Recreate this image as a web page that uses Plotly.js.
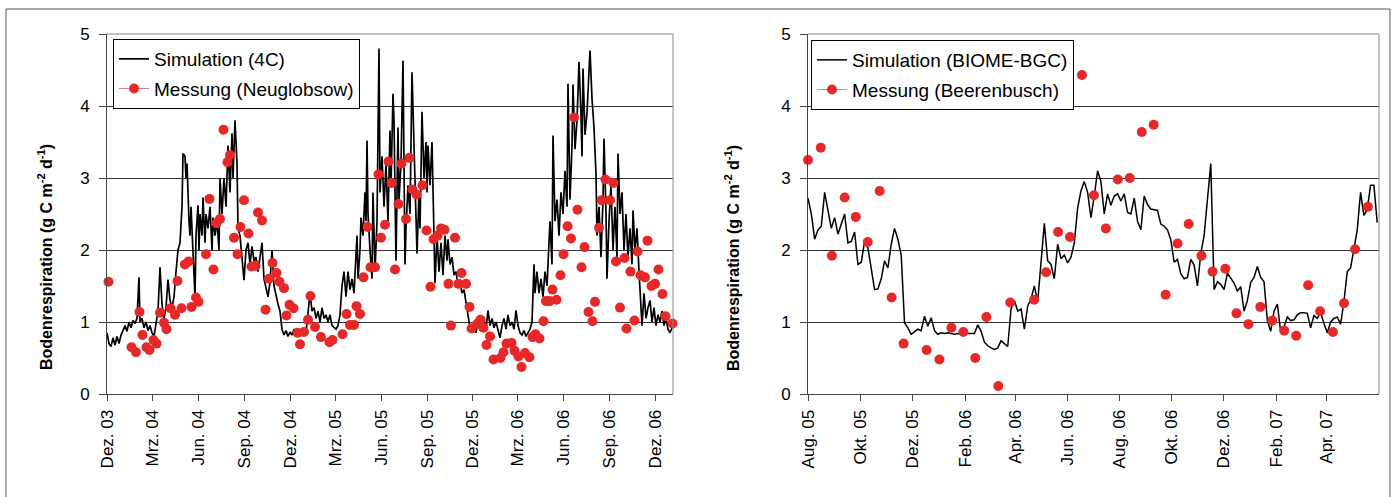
<!DOCTYPE html>
<html><head><meta charset="utf-8">
<script src="https://cdn.plot.ly/plotly-3.0.1.min.js"></script>
<style>html,body{margin:0;padding:0;background:#fff}#chart{width:1394px;height:497px}</style>
</head><body><div id="chart"></div>
<script>
// ---------- Left panel: 4C simulation vs. Neuglobsow ----------
const startL = '2003-12-01';
const simLDays = [0,4,8,12,16,20,24,28,32,36,
40,44,48,52,56,60,64,66,70,74,
78,82,86,90,94,98,102,106,110,114,
118,122,126,130,134,138,142,146,150,152,
156,158,160,164,166,168,172,176,178,182,
184,186,190,192,196,198,202,206,210,212,
216,220,224,226,230,234,238,242,246,250,
252,256,260,262,266,270,274,278,282,286,
290,294,298,302,306,310,314,318,322,326,
330,334,338,342,346,350,354,358,362,366,
370,374,378,382,386,390,394,398,402,406,
410,414,418,422,426,430,434,438,442,446,
450,454,458,462,466,470,474,478,482,486,
490,494,498,500,502,506,508,512,516,518,
520,522,526,530,532,536,540,544,546,550,
554,558,562,566,568,572,574,578,582,584,
588,592,596,598,602,606,610,614,618,620,
624,626,630,634,638,640,642,646,650,652,
656,660,664,668,672,676,680,682,686,690,
694,698,702,706,710,714,718,722,726,730,
734,738,742,746,750,754,758,762,766,770,
774,778,782,786,790,794,798,802,806,810,
814,818,822,826,830,834,838,842,846,850,
854,856,860,864,868,872,876,880,884,886,
890,892,896,900,904,908,912,916,920,922,
926,930,932,936,940,944,948,950,952,956,
960,966,970,974,978,980,984,988,992,994,
998,1000,1004,1008,1012,1016,1020,1022,1026,1030,
1034,1038,1042,1046,1050,1052,1056,1060,1064,1068,
1070,1074,1078,1082,1086,1090,1094,1098,1102,1106,
1110,1114,1118,1122,1126,1130];
const simLVals = [0.85,0.70,0.66,0.78,0.68,0.80,0.70,0.82,0.88,0.95,
0.87,1.00,0.92,1.02,0.98,1.05,1.62,1.00,1.05,0.92,
1.00,0.88,0.95,0.85,0.80,0.95,1.15,1.76,1.25,1.05,
1.20,1.59,1.30,1.20,1.35,1.70,2.00,2.10,2.60,3.34,
3.30,3.00,3.20,2.40,2.20,2.60,2.00,1.35,2.20,2.62,
2.00,2.50,2.20,2.73,2.10,2.50,2.30,2.60,2.00,2.45,
2.20,2.40,2.00,3.00,2.50,3.00,2.60,3.45,2.80,3.62,
3.00,3.80,3.20,2.30,2.20,1.90,1.58,2.00,2.10,1.80,
2.05,1.85,1.90,1.70,1.90,2.10,1.60,1.45,1.35,1.55,
2.00,1.50,1.35,1.25,1.15,0.90,0.82,0.88,0.80,0.86,
0.82,0.90,0.84,0.88,0.80,0.86,0.90,0.85,1.10,1.40,
1.15,1.20,1.05,1.15,1.00,1.20,1.05,1.10,1.00,1.10,
0.95,0.92,0.90,0.95,1.10,1.50,1.70,1.35,1.70,1.45,
1.60,1.40,1.90,2.20,1.60,2.00,2.45,2.20,2.80,2.40,
3.52,2.50,2.00,1.60,2.80,1.70,2.40,4.80,2.80,3.30,
2.60,3.20,2.40,3.66,2.90,4.17,3.80,1.85,3.70,2.70,
3.20,4.63,1.80,2.30,2.90,2.50,4.47,3.40,2.40,1.95,
2.80,2.30,3.92,3.00,3.50,2.80,3.45,2.90,3.50,2.80,
1.54,2.20,1.70,2.10,1.65,2.20,1.85,2.15,1.80,1.90,
1.65,1.70,1.50,1.55,1.40,1.45,1.25,1.05,0.92,0.88,
0.95,0.85,1.00,0.88,0.92,1.05,0.90,1.16,0.95,1.05,
0.92,1.00,0.90,0.78,0.95,1.05,0.90,1.10,0.95,1.00,
0.90,1.16,0.95,0.85,0.82,0.88,0.80,0.85,0.90,1.00,
1.80,1.40,1.70,1.40,1.60,1.35,1.70,1.50,2.00,2.40,
1.80,3.59,2.40,2.70,2.20,2.80,2.50,3.10,2.60,4.31,
2.70,3.45,4.30,3.40,3.80,4.61,3.87,3.30,4.52,3.60,
3.90,4.77,4.10,3.70,3.05,2.20,2.60,1.90,2.70,3.55,
2.50,1.60,2.40,2.90,2.00,2.60,1.90,3.34,2.50,2.80,
2.00,2.50,1.90,2.30,1.80,2.55,2.00,2.30,1.70,1.30,
0.95,1.40,1.05,1.20,1.30,1.00,1.20,0.95,1.10,1.00,
1.15,0.95,1.05,0.90,0.85,0.92];
const measLDays = [3,49,58,65,71,79,85,93,99,106,
114,119,127,136,141,149,156,163,169,178,
183,198,205,213,219,226,233,241,246,254,
261,267,274,283,289,297,302,310,317,324,
331,339,345,354,359,365,373,381,386,394,
402,407,416,428,445,451,471,479,486,494,
499,506,513,521,527,536,543,548,556,563,
569,576,583,589,598,605,611,619,631,639,
647,653,661,668,675,683,688,696,703,709,
718,725,729,741,747,753,759,766,773,787,
793,799,809,815,823,829,836,845,851,857,
865,873,878,885,891,899,907,913,921,928,
934,941,949,955,963,971,976,984,989,997,
1006,1013,1018,1026,1035,1039,1047,1055,1061,1067,
1076,1081,1089,1096,1103,1111,1117,1131];
const measLVals = [1.56,0.65,0.58,1.14,0.82,0.65,0.61,0.75,0.70,1.13,
0.99,0.90,1.19,1.10,1.57,1.19,1.80,1.84,1.21,1.34,
1.28,1.94,2.71,1.73,2.37,2.43,3.67,3.22,3.32,2.17,
1.94,2.32,2.69,2.23,1.77,1.78,2.52,2.41,1.17,1.60,
1.82,1.68,1.56,1.47,1.09,1.24,1.19,0.85,0.69,0.86,
1.03,1.36,0.93,0.79,0.72,0.75,0.83,1.11,0.96,0.96,
1.22,1.11,1.62,2.32,1.76,1.76,3.05,2.17,2.35,3.23,
2.93,1.73,2.64,3.20,2.43,3.28,2.84,2.77,2.90,2.27,
1.49,2.15,2.20,2.30,2.28,1.53,0.95,2.17,1.53,1.68,
1.53,1.21,0.91,0.98,1.03,0.92,0.68,0.80,0.48,0.50,
0.58,0.70,0.71,0.60,0.52,0.375,0.57,0.51,0.79,0.83,
0.77,1.01,1.29,1.29,1.45,1.31,1.65,1.94,2.33,2.16,
3.84,2.56,1.76,2.04,1.14,1.01,1.28,2.31,2.69,2.98,
2.69,2.93,1.84,1.20,1.89,0.91,1.70,1.02,1.98,1.65,
1.62,2.13,1.50,1.53,1.73,1.39,1.08,0.98];
const tickValsL = ['2003-12-01','2004-03-01','2004-06-01','2004-09-01','2004-12-01','2005-03-01','2005-06-01','2005-09-01','2005-12-01','2006-03-01','2006-06-01','2006-09-01','2006-12-01'];
const tickTextL = ['Dez. 03','Mrz. 04','Jun. 04','Sep. 04','Dez. 04','Mrz. 05','Jun. 05','Sep. 05','Dez. 05','Mrz. 06','Jun. 06','Sep. 06','Dez. 06'];

// ---------- Right panel: BIOME-BGC simulation vs. Beerenbusch ----------
const startR = '2005-08-01';
const simRStepDays = 3.9;
const simRVals = [2.72,2.50,2.15,2.28,2.33,2.80,2.55,2.30,2.45,2.22,
2.36,2.50,2.10,2.12,2.25,1.80,1.83,2.12,2.03,1.75,
1.45,1.46,1.60,1.85,1.75,2.08,2.30,2.15,1.93,0.99,
0.92,0.83,0.86,0.90,0.88,1.08,0.94,1.06,0.88,0.83,
0.85,0.84,0.85,0.84,0.83,0.84,0.83,0.84,0.84,0.83,
0.84,0.96,0.87,0.72,0.67,0.64,0.62,0.64,0.74,0.70,
0.66,1.18,1.30,1.15,1.18,0.90,1.22,1.32,1.50,1.28,
1.80,2.37,1.85,1.80,1.60,2.08,1.88,1.93,1.82,1.90,
2.10,2.58,2.82,2.95,2.80,2.45,2.75,3.10,2.95,2.50,
2.78,2.62,2.75,2.78,2.68,2.78,2.52,2.50,2.72,2.40,
2.28,2.75,2.63,2.57,2.56,2.55,2.36,2.33,2.28,2.14,
1.83,1.87,1.67,1.60,1.62,1.87,1.79,1.50,1.95,2.20,
2.70,3.20,1.45,1.56,1.52,1.45,1.68,1.60,1.54,1.43,
1.49,1.15,1.30,1.55,1.62,1.77,1.62,1.56,1.02,0.87,
1.15,1.25,0.86,0.93,1.07,1.02,1.03,1.10,1.13,1.13,
1.12,0.92,1.09,1.05,1.13,0.98,0.85,1.00,1.05,1.07,
0.97,1.28,1.70,1.75,2.00,2.28,2.80,2.48,2.56,2.90,
2.90,2.38];
const measRDays = [0,15,28,43,56,70,84,98,112,139,154,168,182,196,209,223,237,265,279,293,307,321,335,349,363,377,391,405,419,433,446,461,474,489,502,516,530,544,558,572,586,600,615,628,641,656];
const measRVals = [3.25,3.42,1.92,2.73,2.46,2.11,2.82,1.34,0.70,0.61,0.48,0.92,0.86,0.50,1.07,0.11,1.27,1.31,1.69,2.25,2.18,4.43,2.76,2.30,2.98,3.00,3.64,3.74,1.38,2.09,2.36,1.92,1.70,1.74,1.12,0.97,1.21,1.02,0.88,0.81,1.51,1.15,0.86,1.26,2.01,2.60];
const tickValsR = ['2005-08-01','2005-10-01','2005-12-01','2006-02-01','2006-04-01','2006-06-01','2006-08-01','2006-10-01','2006-12-01','2007-02-01','2007-04-01'];
const tickTextR = ['Aug. 05','Okt. 05','Dez. 05','Feb. 06','Apr. 06','Jun. 06','Aug. 06','Okt. 06','Dez. 06','Feb. 07','Apr. 07'];

const yTicks = [0,1,2,3,4,5];
const yTitle = 'Bodenrespiration (g C m<sup>-2</sup> d<sup>-1</sup>)';

function dayToDate(start, d) {
  const t = Date.parse(start + 'T00:00:00Z') + d * 86400000;
  const s = new Date(t).toISOString();
  return s.slice(0, 10) + ' ' + s.slice(11, 19);
}

const W = 1394, H = 497;
const FONT = 'Liberation Sans, Arial, sans-serif';
const RED = '#e62828';
const PINK = '#c87ab8';

const traces = [
  {x: simLDays.map(d => dayToDate(startL, d)), y: simLVals, mode: 'lines', name: 'Simulation (4C)',
   line: {color: '#000', width: 1.7}, xaxis: 'x', yaxis: 'y', legend: 'legend', legendgroup: 'a'},
  {x: measLDays.map(d => dayToDate(startL, d)), y: measLVals, mode: 'markers', name: 'Messung (Neuglobsow)',
   marker: {color: RED, size: 10}, xaxis: 'x', yaxis: 'y', showlegend: false, cliponaxis: false},
  {x: [null], y: [null], mode: 'lines+markers', name: 'Messung (Neuglobsow)',
   line: {color: PINK, width: 1}, marker: {color: RED, size: 10}, xaxis: 'x', yaxis: 'y', legend: 'legend', legendgroup: 'b'},
  {x: simRVals.map((v, i) => dayToDate(startR, i * simRStepDays)), y: simRVals, mode: 'lines', name: 'Simulation (BIOME-BGC)',
   line: {color: '#000', width: 1.5}, xaxis: 'x2', yaxis: 'y2', legend: 'legend2', legendgroup: 'c'},
  {x: measRDays.map(d => dayToDate(startR, d)), y: measRVals, mode: 'markers', name: 'Messung (Beerenbusch)',
   marker: {color: RED, size: 10}, xaxis: 'x2', yaxis: 'y2', showlegend: false, cliponaxis: false},
  {x: [null], y: [null], mode: 'lines+markers', name: 'Messung (Beerenbusch)',
   line: {color: PINK, width: 1}, marker: {color: RED, size: 10}, xaxis: 'x2', yaxis: 'y2', legend: 'legend2', legendgroup: 'd'}
];

const yDom = [103 / H, 463 / H];
function yAxis(anchor) {
  return {domain: yDom, anchor: anchor, range: [0, 5], tickvals: yTicks, ticktext: yTicks.map(String),
    ticks: 'outside', ticklen: 7, tickcolor: '#444', showline: true, linecolor: '#444', linewidth: 1,
    showgrid: true, gridcolor: '#333', gridwidth: 1, zeroline: false, ticklabelstandoff: 6,
    tickfont: {size: 17, color: '#000', family: FONT}, fixedrange: true};
}
function xAxis(anchor, dom, r0, r1, tv, tt) {
  return {domain: dom, anchor: anchor, type: 'date', range: [r0, r1], tickvals: tv, ticktext: tt,
    tickangle: -90, ticks: 'outside', ticklen: 6, tickcolor: '#444', showline: true, linecolor: '#444',
    linewidth: 1, showgrid: false, zeroline: false, ticklabelstandoff: 2,
    tickfont: {size: 17, color: '#000', family: FONT}, fixedrange: true};
}
const legendBase = {xanchor: 'left', yanchor: 'top', bgcolor: '#fff', bordercolor: '#000', borderwidth: 1,
  font: {size: 19, color: '#000', family: FONT}, tracegroupgap: 2, orientation: 'v'};

const layout = {
  width: W, height: H, margin: {l: 0, r: 0, t: 0, b: 0},
  paper_bgcolor: '#fff', plot_bgcolor: '#fff', font: {family: FONT, size: 17, color: '#000'},
  xaxis: xAxis('y', [107 / W, 673 / W], dayToDate(startL, 0), dayToDate(startL, 1132), tickValsL, tickTextL),
  yaxis: yAxis('x'),
  xaxis2: xAxis('y2', [808 / W, 1379 / W], startR, '2007-06-01', tickValsR, tickTextR),
  yaxis2: yAxis('x2'),
  legend: Object.assign({}, legendBase, {x: 113 / W, y: (H - 39) / H}),
  legend2: Object.assign({}, legendBase, {x: 811 / W, y: (H - 40) / H}),
  annotations: [
    {text: yTitle, xref: 'paper', yref: 'paper', x: 45 / W, y: (H - 257) / H, textangle: -90,
     showarrow: false, xanchor: 'center', yanchor: 'middle', font: {size: 16, family: FONT, color: '#000', weight: 'bold'}},
    {text: yTitle, xref: 'paper', yref: 'paper', x: 732 / W, y: (H - 258) / H, textangle: -90,
     showarrow: false, xanchor: 'center', yanchor: 'middle', font: {size: 16, family: FONT, color: '#000', weight: 'bold'}}
  ],
  shapes: [
    {type: 'rect', xref: 'paper', yref: 'paper', x0: 6 / W, x1: 1390 / W, y0: -0.05, y1: (H - 9) / H,
     line: {color: '#555', width: 1}, fillcolor: 'rgba(0,0,0,0)'},
    {type: 'line', xref: 'x domain', yref: 'y domain', x0: 0, x1: 1, y0: 1, y1: 1, line: {color: '#888', width: 1}},
    {type: 'line', xref: 'x domain', yref: 'y domain', x0: 1, x1: 1, y0: 0, y1: 1, line: {color: '#888', width: 1}},
    {type: 'line', xref: 'x2 domain', yref: 'y2 domain', x0: 0, x1: 1, y0: 1, y1: 1, line: {color: '#888', width: 1}},
    {type: 'line', xref: 'x2 domain', yref: 'y2 domain', x0: 1, x1: 1, y0: 0, y1: 1, line: {color: '#888', width: 1}}
  ],
  showlegend: true
};

Plotly.newPlot('chart', traces, layout, {displayModeBar: false, staticPlot: true});
</script>
</body></html>
